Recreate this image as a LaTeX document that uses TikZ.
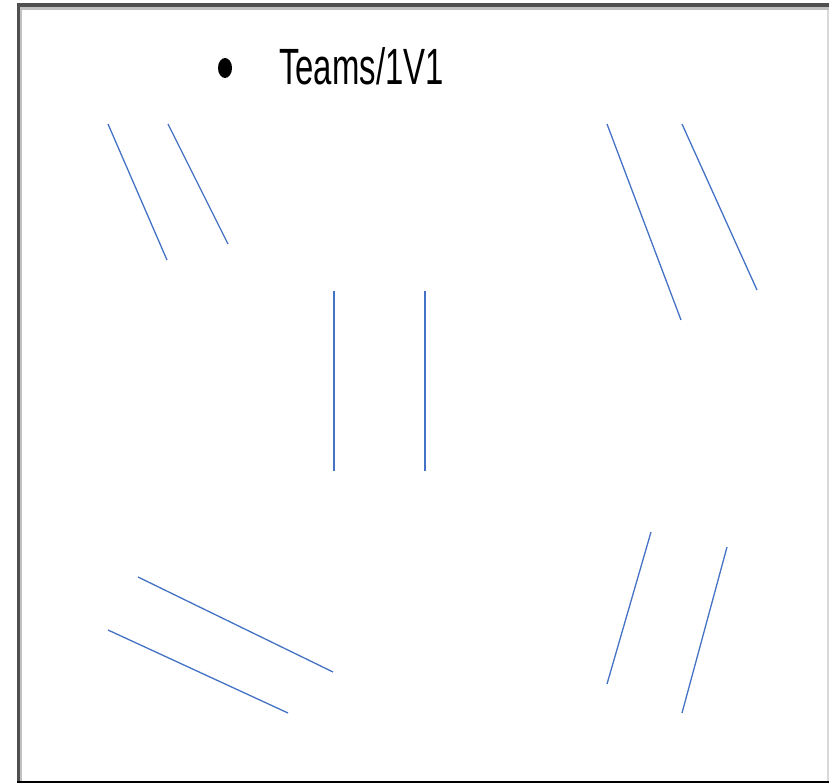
\documentclass[tikz,border=0pt]{standalone}
\usepackage{fontspec}
\setmainfont{Liberation Sans}
\definecolor{lineblue}{HTML}{4472C4}
\definecolor{framedark}{HTML}{505050}
\definecolor{framelight}{HTML}{C0C0C0}
\begin{document}
\begin{tikzpicture}[x=1pt,y=-1pt,
  stroke/.style={draw=lineblue,line width=1.3pt},
  label/.style={inner sep=0pt,anchor=base west,font=\fontsize{51}{51}\selectfont,xscale=0.645}]
\useasboundingbox (0,0) rectangle (829,783);
% frame
\fill[framelight] (17,3) rectangle (829,10);
\fill[framelight] (17,3) rectangle (22,783);
\fill[framedark] (17,3) rectangle (829,7);
\fill[framedark] (17,3) rectangle (19.5,783);
\fill[black] (17,780.5) rectangle (829,783);
\fill[black!15] (826.5,10) rectangle (829,780.5);
% legend
\fill[black] (225,68) ellipse [x radius=7,y radius=10];
\node[label] (t) at (279,85) {Teams/1V1};
% lines
\coordinate (a1) at (108,124); \coordinate (a2) at (167,260);
\coordinate (b1) at (168,124); \coordinate (b2) at (228,244);
\coordinate (c1) at (607,124); \coordinate (c2) at (681,320);
\coordinate (d1) at (682,124); \coordinate (d2) at (757,290);
\coordinate (e1) at (334,291); \coordinate (e2) at (334,471);
\coordinate (f1) at (425,291); \coordinate (f2) at (425,471);
\coordinate (g1) at (138,577); \coordinate (g2) at (333,672);
\coordinate (h1) at (108,630); \coordinate (h2) at (288,713);
\coordinate (i1) at (651,532); \coordinate (i2) at (607,684);
\coordinate (j1) at (727,547); \coordinate (j2) at (682,713);
\foreach \p in {a,b,c,d,e,f,g,h,i,j}{\draw[stroke] (\p1) -- (\p2);}
\end{tikzpicture}
\end{document}
